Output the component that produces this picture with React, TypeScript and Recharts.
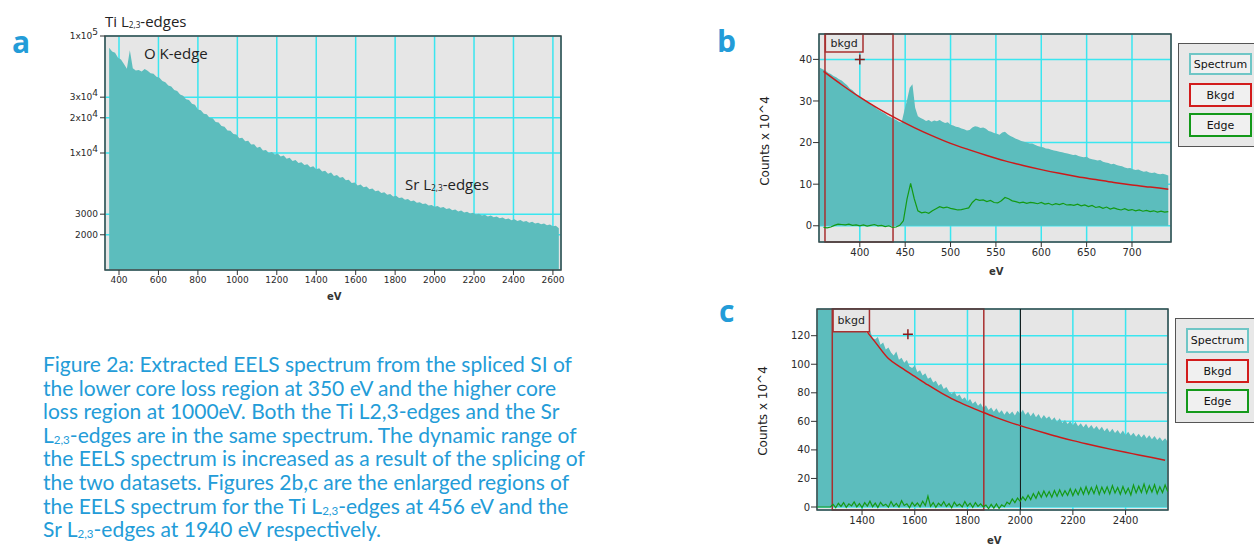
import React from 'react';
import {
  ComposedChart,
  Area,
  Line,
  XAxis,
  YAxis,
  CartesianGrid,
  ReferenceArea,
  ReferenceLine,
  ReferenceDot,
} from 'recharts';

// colours picked off the DigitalMicrograph screenshots
const TEAL = '#5cbdbd';
const GRID = '#3ae6f0';
const PLOT_BG = '#e6e6e6';
const RED = '#cc1a1a';
const BOX_RED = '#a83030';
const GREEN = '#149a14';
const BLUE = '#239cd8';
const FRAME = '#444';
const TICK_FONT = "'DejaVu Sans', Verdana, sans-serif";
const TEXT_FONT = "'Open Sans', Lato, sans-serif";
const CAPTION_FONT = "Lato, 'Open Sans', sans-serif";

// ---- panel a: spliced spectrum, 15 eV channels from 350 eV, log counts
const aStartEv = 350;
const aStepEv = 15;
const aCounts = [
  79500, 73800, 71900, 65200, 63100, 57600, 52400, 75500, 52900, 50600,
  51200, 49800, 52300, 50400, 48100, 47500, 44800, 43900, 41200, 40300,
  37800, 37100, 34600, 33900, 31600, 30900, 28800, 28400, 26300, 25800,
  23500, 23200, 21600, 21400, 19900, 19800, 18400, 18200, 17000, 16800,
  15600, 15500, 14500, 14400, 13400, 13500, 12600, 12700, 11800, 11900,
  11100, 11300, 10500, 10600, 10000, 10200, 9700, 9900, 9350, 9500,
  8950, 9100, 8550, 8700, 8200, 8350, 7900, 8000, 7550, 7700,
  7250, 7400, 6950, 7050, 6650, 6800, 6350, 6500, 6150, 6250,
  5850, 5900, 5550, 5600, 5280, 5380, 5100, 5180, 4900, 4970,
  4700, 4780, 4550, 4620, 4400, 4460, 4250, 4310, 4120, 4170,
  3980, 4040, 3870, 3920, 3760, 3800, 3660, 3700, 3560, 3600,
  3470, 3530, 3400, 3450, 3320, 3370, 3240, 3290, 3160, 3220,
  3100, 3150, 3040, 3090, 2980, 3030, 2930, 2970, 2860, 2920,
  2820, 2860, 2770, 2810, 2720, 2760, 2660, 2720, 2620, 2670,
  2580, 2620, 2540, 2580, 2500, 2540, 2460, 2500, 2410, 2450,
  2360, 2390, 2270,
];
const aXDomain = [329, 2641];
const aYDomain = [1000, 100000];
const aXTicks = [400, 600, 800, 1000, 1200, 1400, 1600, 1800, 2000, 2200, 2400, 2600];
const aYTicks = [2000, 3000, 10000, 20000, 30000, 100000];
const aYTickText = ['2000', '3000', '1x10^4', '2x10^4', '3x10^4', '1x10^5'];

// ---- panel b: Ti L2,3 region (counts x 10^4)
const bStartEv = 356;
const bStepEv = 3;
const bSpectrum = [
  38.0, 37.6, 37.3, 36.8, 36.5, 36.0, 35.7, 35.2, 34.9, 34.3,
  33.8, 33.0, 32.6, 31.9, 31.4, 30.9, 30.5, 29.9, 29.6, 29.0,
  28.7, 28.1, 27.7, 27.3, 26.9, 26.4, 26.1, 25.7, 25.4, 25.0,
  24.8, 27.6, 30.2, 33.2, 34.0, 28.4, 26.3, 25.9, 25.6, 25.2,
  25.4, 25.0, 25.3, 25.1, 25.4, 25.0, 24.7, 24.9, 24.3, 24.1,
  23.8, 23.7, 23.4, 23.2, 22.9, 23.0, 23.6, 23.9, 23.8, 23.5,
  23.6, 23.3, 22.8, 22.6, 22.3, 22.1, 21.9, 22.4, 22.6, 22.0,
  21.6, 21.3, 20.9, 20.7, 20.4, 20.2, 20.0, 19.8, 19.8, 19.5,
  19.2, 19.0, 18.9, 18.6, 18.5, 18.3, 18.1, 18.0, 17.8, 17.7,
  17.5, 17.4, 17.2, 17.0, 17.1, 16.8, 16.6, 16.5, 16.6, 16.2,
  16.0, 15.9, 15.7, 15.8, 15.4, 15.2, 15.1, 14.8, 14.9, 14.6,
  14.4, 14.3, 14.0, 13.8, 13.9, 13.6, 13.4, 13.5, 13.2, 13.0,
  13.1, 12.8, 12.7, 12.8, 12.5, 12.4, 12.5, 12.3, 12.1,
];
const bBkgdEv = [360, 380, 400, 420, 440, 460, 480, 500, 520, 540, 560, 580, 600, 620, 640, 660, 680, 700, 720, 740];
const bBkgd = [37.1, 33.9, 30.9, 28.2, 25.8, 23.6, 21.6, 19.8, 18.3, 16.9, 15.6, 14.5, 13.5, 12.6, 11.8, 11.1, 10.4, 9.8, 9.3, 8.8];
const bEdgeStartEv = 360;
const bEdgeStepEv = 4;
const bEdge = [
  -0.4, -0.5, -0.3, 0.1, 0.4, 0.3, 0.2, 0.4, 0.1, 0.2,
  0.0, 0.2, -0.1, 0.1, 0.3, 0.0, 0.1, -0.2, 0.0, -0.4,
  -0.3, 0.1, 1.2, 6.4, 10.2, 6.5, 3.6, 3.1, 3.3, 3.0,
  3.6, 4.1, 4.6, 4.3, 4.5, 4.2, 4.0, 3.8, 3.9, 4.1,
  4.3, 5.6, 6.4, 6.1, 6.2, 5.8, 6.1, 5.6, 5.5, 6.0,
  6.8, 6.5, 6.0, 5.8, 5.5, 5.7, 5.4, 5.6, 5.5, 5.3,
  5.6, 5.2, 5.4, 5.0, 5.3, 5.1, 5.4, 5.0, 5.1, 4.9,
  5.2, 4.8, 5.0, 4.6, 4.9, 4.4, 4.6, 4.2, 4.5, 4.0,
  4.3, 4.0, 3.8, 4.1, 3.7, 3.9, 3.6, 3.8, 3.5, 3.7,
  3.4, 3.6, 3.3, 3.5, 3.3, 3.4,
];
const bXDomain = [355, 743];
const bYDomain = [-3.9, 46.1];
const bXTicks = [400, 450, 500, 550, 600, 650, 700];
const bYTicks = [0, 10, 20, 30, 40];

// ---- panel c: Sr L2,3 region (counts x 10^4), 10 eV channels
const cStartEv = 1230;
const cStepEv = 10;
const cSpectrum = [
  152, 151, 150, 149, 148, 147, 146, 144, 142, 140,
  138, 136, 134, 132, 130, 128, 126, 125, 124,
  121.4, 123.8, 118.2, 117.5, 119.0, 113.6, 115.2, 110.4, 111.8, 108.3,
  106.1, 108.9, 103.2, 104.6, 101.1, 102.9, 98.4, 97.3, 99.2, 94.6,
  95.8, 92.1, 93.7, 89.8, 90.9, 87.2, 88.5, 85.0, 86.3, 82.6,
  84.1, 80.9, 79.2, 81.0, 77.4, 78.8, 75.5, 76.9, 73.8, 75.7,
  72.4, 74.0, 70.9, 72.6, 69.3, 71.2, 68.0, 69.7, 66.8, 69.1,
  65.9, 67.8, 64.7, 67.2, 65.0, 66.9, 64.1, 67.4, 65.3, 68.1,
  64.6, 66.8, 63.5, 66.2, 62.9, 65.1, 61.8, 64.4, 62.0, 63.6,
  60.7, 62.9, 59.6, 62.1, 58.8, 61.0, 58.1, 60.3, 57.2, 59.8,
  56.6, 58.7, 55.9, 58.3, 55.1, 57.4, 54.6, 56.8, 53.9, 56.2,
  53.0, 55.3, 52.4, 54.9, 51.8, 54.0, 51.2, 53.6, 50.5, 52.8,
  49.9, 52.0, 49.2, 51.4, 48.7, 50.9, 48.0, 50.2, 47.4, 49.8,
  46.9, 48.8, 46.2, 48.1, 45.7,
];
const cEdge = [
  0, 0, 0, 0, 0, 0,
  1.8, -0.5, 2.6, 0.4, 3.1, -0.2, 2.2, 0.8, 3.6, 0.1,
  2.4, -0.4, 3.0, 0.6, 4.1, 0.2, 2.7, -0.3, 3.3, 0.9,
  2.0, -0.1, 3.8, 0.5, 2.5, 0.0, 4.4, 1.1, 2.3, -0.6,
  3.2, 0.7, 2.8, 0.2, 4.0, 1.0, 7.6, 0.4, 3.1, -0.2,
  2.6, 0.9, 3.7, 0.3, 2.4, -0.5, 3.4, 0.8, 2.1, 0.0,
  3.9, 0.6, 2.7, -0.3, 3.0, 0.4, 2.2, 0.1,
  1.4, -1.2, 1.8, -0.8, 2.2, -1.0, 1.5, 0.2, 3.4,
  2.0, 5.6, 3.1, 6.2, 4.0, 7.1, 4.6, 8.3, 5.2, 9.4,
  6.1, 10.5, 6.8, 11.2, 7.3, 10.8, 6.9, 11.6, 7.5, 12.1,
  7.8, 11.4, 8.2, 12.7, 8.0, 12.3, 8.6, 13.4, 8.9, 14.2,
  9.1, 13.6, 9.4, 14.8, 8.8, 13.9, 9.6, 14.1, 9.2, 15.0,
  9.8, 13.7, 8.9, 14.4, 9.5, 13.2, 8.4, 15.3, 9.9, 14.6,
  10.2, 16.1, 9.7, 14.9, 10.5, 15.6, 9.3, 14.2, 10.1, 15.4,
  10.8,
];
const cBkgdEv = [1420, 1450, 1500, 1550, 1600, 1650, 1700, 1750, 1800, 1850, 1900, 1950, 2000, 2050, 2100, 2150, 2200, 2250, 2300, 2350, 2400, 2450, 2500, 2550];
const cBkgd = [122.5, 115.5, 104, 97.5, 91.5, 85.5, 80, 75, 70.8, 67, 63.3, 60, 57, 54.2, 51.5, 48.9, 46.5, 44.3, 42.2, 40.2, 38.3, 36.5, 34.6, 32.8];
const cXDomain = [1229, 2561];
const cYDomain = [-2.1, 138.7];
const cXTicks = [1400, 1600, 1800, 2000, 2200, 2400];
const cYTicks = [0, 20, 40, 60, 80, 100, 120];

const channels = (start: number, step: number, vals: number[]) =>
  vals.map((v, i) => ({ e: start + i * step, v }));
const pairs = (ev: number[], vals: number[]) => vals.map((v, i) => ({ e: ev[i], v }));

const aSeries = channels(aStartEv, aStepEv, aCounts);
const bSpecSeries = channels(bStartEv, bStepEv, bSpectrum);
const bBkgdSeries = pairs(bBkgdEv, bBkgd);
const bEdgeSeries = channels(bEdgeStartEv, bEdgeStepEv, bEdge);
const cSpecSeries = channels(cStartEv, cStepEv, cSpectrum);
const cEdgeSeries = channels(cStartEv, cStepEv, cEdge);
const cBkgdSeries = pairs(cBkgdEv, cBkgd);

const tickStyle = { fontSize: 10, fill: '#2a2a2a', fontFamily: TICK_FONT };

const LogTick = (props: any) => {
  const { x, y, payload } = props;
  const txt = aYTickText[aYTicks.indexOf(payload.value)] || String(payload.value);
  const [base, exp] = txt.split('^');
  return (
    <text x={x} y={y} dy={3} textAnchor="end" fontSize={9} fill="#2a2a2a" fontFamily={TICK_FONT}>
      {base}
      {exp && (
        <tspan dy={-4} fontSize={9}>
          {exp}
        </tspan>
      )}
    </text>
  );
};

const plus = (color: string) => (p: any) => (
  <path d={`M${p.cx - 5},${p.cy}h10M${p.cx},${p.cy - 5}v10`} stroke={color} strokeWidth={1.5} />
);

const frame = (xd: number[], yd: number[]) => (
  <ReferenceArea x1={xd[0]} x2={xd[1]} y1={yd[0]} y2={yd[1]} fill="none" stroke={FRAME} strokeWidth={1.5} ifOverflow="visible" />
);

const abs = (left: number, top: number, extra: React.CSSProperties = {}): React.CSSProperties => ({
  position: 'absolute',
  left,
  top,
  ...extra,
});

const Sub = ({ children }: { children: React.ReactNode }) => (
  <span style={{ fontSize: '0.55em', verticalAlign: '-0.12em', lineHeight: 0 }}>{children}</span>
);

const LegendBox = ({ left, top, items }: { left: number; top: number; items: { t: number; h: number }[] }) => {
  const names = ['Spectrum', 'Bkgd', 'Edge'];
  const colors = ['#6fc6c6', '#d21c1c', '#13991a'];
  const outerH = items[2].t + items[2].h - top + 10;
  return (
    <>
      <div style={abs(left, top, { width: 100, height: outerH, border: '1px solid #555', background: '#e8e8e8', boxSizing: 'border-box' })} />
      {items.map((it, i) => (
        <div
          key={names[i]}
          style={abs(left + 11, it.t, {
            width: 63,
            height: it.h,
            border: `2px solid ${colors[i]}`,
            background: '#f0f0f0',
            boxSizing: 'border-box',
            font: `11px ${TICK_FONT}`,
            color: '#111',
            display: 'flex',
            alignItems: 'center',
            justifyContent: 'center',
          })}
        >
          {names[i]}
        </div>
      ))}
    </>
  );
};

const PanelA = () => (
  <ComposedChart width={600} height={310} margin={{ top: 36, right: 39, bottom: 0, left: 45 }} style={abs(0, 0)}>
    <CartesianGrid fill={PLOT_BG} fillOpacity={1} stroke={GRID} strokeWidth={1.5} />
    <XAxis
      type="number"
      dataKey="e"
      domain={aXDomain}
      ticks={aXTicks}
      interval={0}
      allowDataOverflow
      height={40}
      tick={{ ...tickStyle, fontSize: 9 }}
      tickLine={{ stroke: '#333' }}
      tickSize={5}
      axisLine={false}
    />
    <YAxis
      type="number"
      scale="log"
      domain={aYDomain}
      ticks={aYTicks}
      interval={0}
      allowDataOverflow
      width={60}
      tick={<LogTick />}
      tickLine={{ stroke: '#333' }}
      tickSize={5}
      axisLine={false}
    />
    <Area data={aSeries} dataKey="v" type="linear" stroke="none" fill={TEAL} fillOpacity={1} baseValue={1000} isAnimationActive={false} />
    {frame(aXDomain, aYDomain)}
  </ComposedChart>
);

const PanelB = () => (
  <ComposedChart width={480} height={280} margin={{ top: 34, right: 9, bottom: 8, left: 79 }} style={abs(700, 0)}>
    <CartesianGrid fill={PLOT_BG} fillOpacity={1} stroke={GRID} strokeWidth={1.5} />
    <XAxis type="number" dataKey="e" domain={bXDomain} ticks={bXTicks} interval={0} allowDataOverflow height={30} tick={tickStyle} tickLine={{ stroke: '#333' }} tickSize={5} axisLine={false} />
    <YAxis type="number" domain={bYDomain} ticks={bYTicks} interval={0} allowDataOverflow width={40} tick={tickStyle} tickLine={{ stroke: '#333' }} tickSize={6} tickMargin={1} axisLine={false} />
    <Area data={bSpecSeries} dataKey="v" type="linear" stroke="none" fill={TEAL} fillOpacity={1} baseValue={0} isAnimationActive={false} />
    <ReferenceArea x1={361.6} x2={436.6} y1={bYDomain[0]} y2={bYDomain[1]} fill="none" stroke={BOX_RED} strokeWidth={1.5} />
    <Line data={bBkgdSeries} dataKey="v" type="monotone" stroke={RED} strokeWidth={1.5} dot={false} isAnimationActive={false} />
    <Line data={bEdgeSeries} dataKey="v" type="linear" stroke={GREEN} strokeWidth={1.2} dot={false} isAnimationActive={false} />
    <ReferenceArea
      x1={362}
      x2={403.5}
      y1={41.8}
      y2={bYDomain[1]}
      fill={PLOT_BG}
      fillOpacity={1}
      stroke={BOX_RED}
      strokeWidth={1.5}
      label={{ value: 'bkgd', position: 'center', fontSize: 11, fill: '#222', fontFamily: TICK_FONT }}
    />
    <ReferenceDot x={400} y={40} shape={plus('#8a1c1c')} />
    {frame(bXDomain, bYDomain)}
  </ComposedChart>
);

const PanelC = () => (
  <ComposedChart width={480} height={250} margin={{ top: 19, right: 12, bottom: 5, left: 77 }} style={abs(700, 290)}>
    <CartesianGrid fill={PLOT_BG} fillOpacity={1} stroke={GRID} strokeWidth={1.5} />
    <XAxis type="number" dataKey="e" domain={cXDomain} ticks={cXTicks} interval={0} allowDataOverflow height={25} tick={tickStyle} tickLine={{ stroke: '#333' }} tickSize={5} axisLine={false} />
    <YAxis type="number" domain={cYDomain} ticks={cYTicks} interval={0} allowDataOverflow width={40} tick={tickStyle} tickLine={{ stroke: '#333' }} tickSize={6} tickMargin={1} axisLine={false} />
    <Area data={cSpecSeries} dataKey="v" type="linear" stroke="none" fill={TEAL} fillOpacity={1} baseValue={0} isAnimationActive={false} />
    <ReferenceArea x1={1287} x2={1862} y1={cYDomain[0]} y2={cYDomain[1]} fill="none" stroke={BOX_RED} strokeWidth={1.5} />
    <ReferenceLine x={2001} stroke="#111" strokeWidth={1} />
    <Line data={cBkgdSeries} dataKey="v" type="monotone" stroke={RED} strokeWidth={1.5} dot={false} isAnimationActive={false} />
    <Line data={cEdgeSeries} dataKey="v" type="linear" stroke={GREEN} strokeWidth={1.2} dot={false} isAnimationActive={false} />
    <ReferenceArea
      x1={1290}
      x2={1428}
      y1={122.8}
      y2={cYDomain[1]}
      fill={PLOT_BG}
      fillOpacity={1}
      stroke={BOX_RED}
      strokeWidth={1.5}
      label={{ value: 'bkgd', position: 'center', fontSize: 11, fill: '#222', fontFamily: TICK_FONT }}
    />
    <ReferenceDot x={1574} y={121} shape={plus('#8a1c1c')} />
    {frame(cXDomain, cYDomain)}
  </ComposedChart>
);

const captionLines: React.ReactNode[] = [
  'Figure 2a: Extracted EELS spectrum from the spliced SI of',
  'the lower core loss region at 350 eV and the higher core',
  'loss region at 1000eV. Both the Ti L2,3-edges and the Sr',
  <>L<Sub>2,3</Sub>-edges are in the same spectrum. The dynamic range of</>,
  'the EELS spectrum is increased as a result of the splicing of',
  'the two datasets. Figures 2b,c are the enlarged regions of',
  <>the EELS spectrum for the Ti L<Sub>2,3</Sub>-edges at 456 eV and the</>,
  <>Sr L<Sub>2,3</Sub>-edges at 1940 eV respectively.</>,
];

const letterStyle: React.CSSProperties = { font: `bold 30px ${TEXT_FONT}`, color: BLUE, lineHeight: '30px' };
const noteStyle: React.CSSProperties = { font: `15px ${TEXT_FONT}`, color: '#222', lineHeight: '16px', whiteSpace: 'nowrap' };
const axisTitle: React.CSSProperties = { font: `bold 10px ${TICK_FONT}`, color: '#333', lineHeight: '10px' };
const countsTitle: React.CSSProperties = {
  font: `12px ${TICK_FONT}`,
  color: '#222',
  lineHeight: '12px',
  whiteSpace: 'nowrap',
  transform: 'translate(-50%, -50%) rotate(-90deg)',
};

export default function App() {
  return (
    <div style={{ position: 'absolute', left: 0, top: 0, width: 1254, height: 546, overflow: 'hidden', background: '#fff' }}>
      <PanelA />
      <PanelB />
      <PanelC />

      <div style={abs(12, 27, letterStyle)}>a</div>
      <div style={abs(717, 26, letterStyle)}>b</div>
      <div style={abs(719, 296, letterStyle)}>c</div>

      <div style={abs(105, 13, noteStyle)}>
        Ti L<Sub>2,3</Sub>-edges
      </div>
      <div style={abs(144, 45, noteStyle)}>O K-edge</div>
      <div style={abs(405, 176, noteStyle)}>
        Sr L<Sub>2,3</Sub>-edges
      </div>

      <div style={abs(327, 292, axisTitle)}>eV</div>
      <div style={abs(989, 267, axisTitle)}>eV</div>
      <div style={abs(987, 536, axisTitle)}>eV</div>
      <div style={abs(765, 141, countsTitle)}>Counts x 10^4</div>
      <div style={abs(763, 411, countsTitle)}>Counts x 10^4</div>

      <LegendBox left={1178} top={43} items={[{ t: 53, h: 22 }, { t: 83, h: 24 }, { t: 113, h: 24 }]} />
      <LegendBox left={1175} top={318} items={[{ t: 328, h: 25 }, { t: 359, h: 24 }, { t: 389, h: 24 }]} />

      <div style={abs(43, 352, { font: `21px ${CAPTION_FONT}`, color: BLUE, lineHeight: '23.6px', whiteSpace: 'nowrap' })}>
        {captionLines.map((l, i) => (
          <div key={i}>{l}</div>
        ))}
      </div>
    </div>
  );
}
